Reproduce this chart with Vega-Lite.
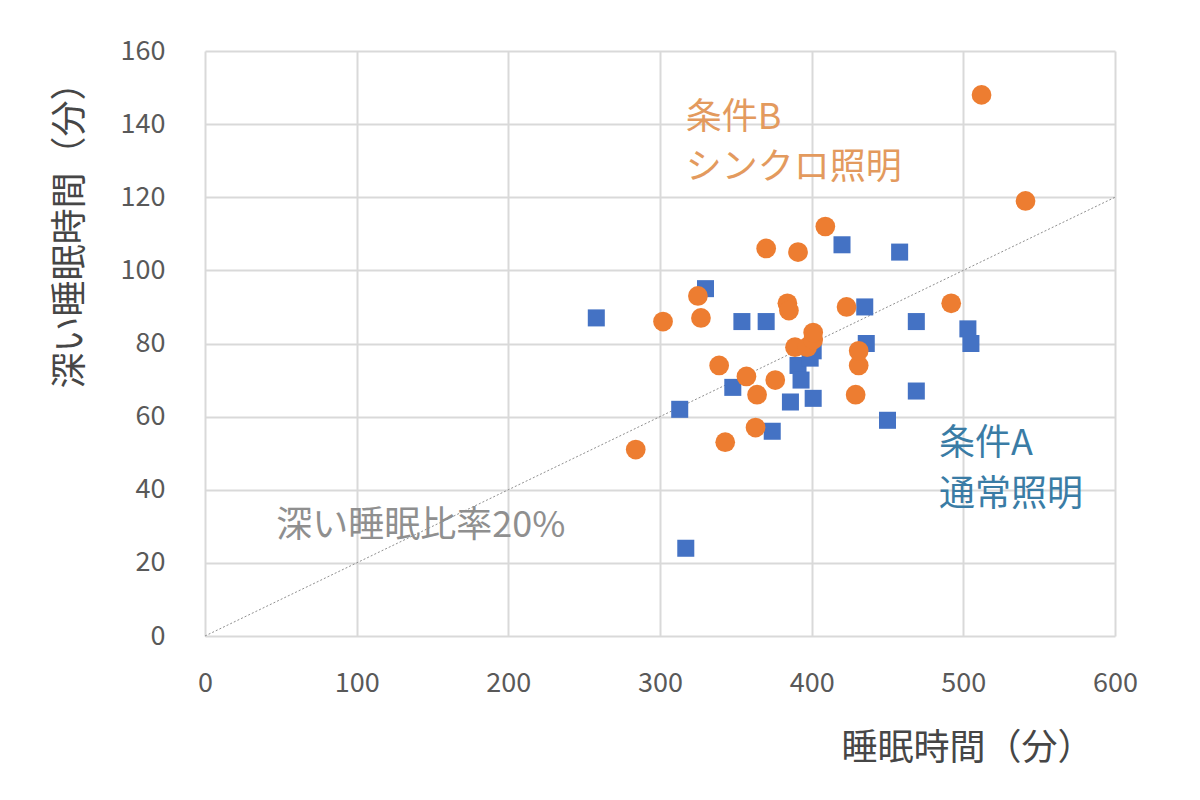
{
  "$schema": "https://vega.github.io/schema/vega-lite/v6.json",
  "width": 910,
  "height": 585,
  "autosize": "none",
  "padding": {"left": 205, "top": 51, "right": 85, "bottom": 164},
  "background": "white",
  "config": {
    "view": {"stroke": null},
    "font": "Noto Sans CJK JP",
    "axis": {
      "grid": true,
      "gridColor": "#d9d9d9",
      "gridWidth": 2,
      "domain": false,
      "ticks": false,
      "labelFlush": false,
      "labelFont": "Noto Sans CJK JP",
      "labelFontSize": 27,
      "labelColor": "#595959",
      "titleFont": "Noto Sans CJK JP",
      "titleFontSize": 36,
      "titleFontWeight": "normal",
      "titleColor": "#464646"
    }
  },
  "datasets": {
    "points": [
      {"sleep": 258, "deep": 87, "group": "A"},
      {"sleep": 313, "deep": 62, "group": "A"},
      {"sleep": 317, "deep": 24, "group": "A"},
      {"sleep": 330, "deep": 95, "group": "A"},
      {"sleep": 348, "deep": 68, "group": "A"},
      {"sleep": 354, "deep": 86, "group": "A"},
      {"sleep": 370, "deep": 86, "group": "A"},
      {"sleep": 374, "deep": 56, "group": "A"},
      {"sleep": 386, "deep": 64, "group": "A"},
      {"sleep": 391, "deep": 74, "group": "A"},
      {"sleep": 393, "deep": 70, "group": "A"},
      {"sleep": 399, "deep": 76, "group": "A"},
      {"sleep": 401, "deep": 78, "group": "A"},
      {"sleep": 401, "deep": 65, "group": "A"},
      {"sleep": 420, "deep": 107, "group": "A"},
      {"sleep": 436, "deep": 80, "group": "A"},
      {"sleep": 435, "deep": 90, "group": "A"},
      {"sleep": 450, "deep": 59, "group": "A"},
      {"sleep": 458, "deep": 105, "group": "A"},
      {"sleep": 469, "deep": 86, "group": "A"},
      {"sleep": 469, "deep": 67, "group": "A"},
      {"sleep": 503, "deep": 84, "group": "A"},
      {"sleep": 505, "deep": 80, "group": "A"},
      {"sleep": 284, "deep": 51, "group": "B"},
      {"sleep": 302, "deep": 86, "group": "B"},
      {"sleep": 325, "deep": 93, "group": "B"},
      {"sleep": 327, "deep": 87, "group": "B"},
      {"sleep": 339, "deep": 74, "group": "B"},
      {"sleep": 343, "deep": 53, "group": "B"},
      {"sleep": 357, "deep": 71, "group": "B"},
      {"sleep": 363, "deep": 57, "group": "B"},
      {"sleep": 364, "deep": 66, "group": "B"},
      {"sleep": 370, "deep": 106, "group": "B"},
      {"sleep": 376, "deep": 70, "group": "B"},
      {"sleep": 384, "deep": 91, "group": "B"},
      {"sleep": 385, "deep": 89, "group": "B"},
      {"sleep": 389, "deep": 79, "group": "B"},
      {"sleep": 391, "deep": 105, "group": "B"},
      {"sleep": 397, "deep": 79, "group": "B"},
      {"sleep": 401, "deep": 81, "group": "B"},
      {"sleep": 401, "deep": 83, "group": "B"},
      {"sleep": 409, "deep": 112, "group": "B"},
      {"sleep": 423, "deep": 90, "group": "B"},
      {"sleep": 429, "deep": 66, "group": "B"},
      {"sleep": 431, "deep": 74, "group": "B"},
      {"sleep": 431, "deep": 78, "group": "B"},
      {"sleep": 492, "deep": 91, "group": "B"},
      {"sleep": 512, "deep": 148, "group": "B"},
      {"sleep": 541, "deep": 119, "group": "B"}
    ],
    "ratio": [
      {"sleep": 0, "deep": 0},
      {"sleep": 600, "deep": 120}
    ],
    "notes": [
      {"text": "条件B", "sleep": 317, "deep": 141.7, "group": "B"},
      {"text": "シンクロ照明", "sleep": 317, "deep": 128, "group": "B"},
      {"text": "条件A", "sleep": 484, "deep": 52.4, "group": "A"},
      {"text": "通常照明", "sleep": 484, "deep": 38.6, "group": "A"},
      {"text": "深い睡眠比率20%", "sleep": 47, "deep": 30, "group": "L"}
    ]
  },
  "layer": [
    {
      "data": {"name": "ratio"},
      "mark": {"type": "line", "color": "#8f8f8f", "strokeWidth": 1, "strokeDash": [2, 2]},
      "encoding": {
        "x": {
          "field": "sleep", "type": "quantitative",
          "scale": {"domain": [0, 600], "nice": false},
          "axis": {
            "values": [0, 100, 200, 300, 400, 500, 600],
            "labelPadding": 34,
            "title": "睡眠時間（分）",
            "titleAlign": "right",
            "titleAnchor": null,
            "titleAngle": 0,
            "titleBaseline": "middle",
            "titleX": 888,
            "titleY": 112
          }
        },
        "y": {
          "field": "deep", "type": "quantitative",
          "scale": {"domain": [0, 160], "nice": false},
          "axis": {
            "values": [0, 20, 40, 60, 80, 100, 120, 140, 160],
            "labelPadding": 40,
            "title": "深い睡眠時間（分）",
            "titleAlign": "center",
            "titleAngle": -90,
            "titleBaseline": "middle",
            "titleX": -135,
            "titleY": 175
          }
        }
      }
    },
    {
      "data": {"name": "points"},
      "transform": [{"filter": "datum.group === 'A'"}],
      "mark": {"type": "point", "shape": "square", "filled": true, "opacity": 1, "size": 290, "color": "#4472C4"},
      "encoding": {
        "x": {"field": "sleep", "type": "quantitative"},
        "y": {"field": "deep", "type": "quantitative"}
      }
    },
    {
      "data": {"name": "points"},
      "transform": [{"filter": "datum.group === 'B'"}],
      "mark": {"type": "point", "shape": "circle", "filled": true, "opacity": 1, "size": 390, "color": "#ED7D31"},
      "encoding": {
        "x": {"field": "sleep", "type": "quantitative"},
        "y": {"field": "deep", "type": "quantitative"}
      }
    },
    {
      "data": {"name": "notes"},
      "mark": {"type": "text", "align": "left", "baseline": "middle", "font": "Noto Sans CJK JP"},
      "encoding": {
        "x": {"field": "sleep", "type": "quantitative"},
        "y": {"field": "deep", "type": "quantitative"},
        "text": {"field": "text"},
        "color": {
          "field": "group", "type": "nominal",
          "scale": {"domain": ["A", "B", "L"], "range": ["#3A7CA5", "#E39A5E", "#8f8f8f"]},
          "legend": null
        },
        "size": {
          "field": "group", "type": "nominal",
          "scale": {"domain": ["A", "B", "L"], "range": [36, 36, 32]},
          "legend": null
        }
      }
    }
  ]
}
